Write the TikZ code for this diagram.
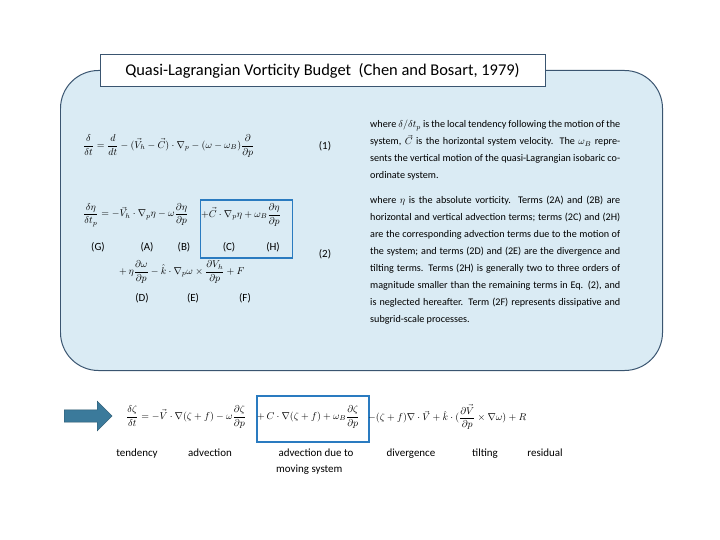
\documentclass[tikz,border=0pt]{standalone}
\usepackage{amsmath}
\usepackage{fontspec}
\setmainfont{Carlito}
\usetikzlibrary{shapes.arrows,positioning}
\definecolor{panel}{HTML}{DAEBF4}
\definecolor{edge}{HTML}{3A5570}
\definecolor{boxblue}{HTML}{2A7BC0}
\definecolor{arrowc}{HTML}{3B7A9B}
\tikzset{
  lab/.style={font=\fontsize{11}{13}\selectfont, inner sep=0pt, anchor=base},
  para/.style={font=\fontsize{10.2}{17}\selectfont, text width=250bp, align=justify, anchor=north west, inner sep=0pt},
  eq/.style={inner sep=1pt, font=\fontsize{10}{12}\selectfont},
  hl/.style={draw=boxblue, line width=1.6pt, inner sep=2pt}
}
\begin{document}
\begin{tikzpicture}[x=1bp,y=-1bp]
\useasboundingbox (0,0) rectangle (720,540);
\node[draw=edge, fill=panel, line width=1pt, rounded corners=38bp, minimum width=602bp, minimum height=300bp, anchor=north west] (panel) at (60,70) {};
\node[draw=edge, fill=white, line width=1pt, minimum width=445bp, minimum height=32bp, font=\fontsize{16.5}{18}\selectfont] (title) at (322.5,71) {Quasi-Lagrangian Vorticity Budget\ \ (Chen and Bosart, 1979)};
% eq 1
\node[eq, anchor=west] (eq1) at (82,146) {$\dfrac{\delta}{\delta t}=\dfrac{d}{dt}-(\vec V_h-\vec C)\cdot\nabla_p-(\omega-\omega_B)\dfrac{\partial}{\partial p}$};
\node[lab] (n1) at (325,150) {(1)};
% eq 2
\node[eq, anchor=west] (eq2a) at (82,215) {$\dfrac{\delta\eta}{\delta t_p}=-\vec V_h\cdot\nabla_p\eta-\omega\dfrac{\partial\eta}{\partial p}$};
\node[hl, minimum height=58bp, minimum width=92bp, anchor=north west] (eq2b) at (199.5,199) {};
\node[eq, anchor=west] (eq2c) at (200,215) {$+\vec C\cdot\nabla_p\eta+\omega_B\dfrac{\partial\eta}{\partial p}$};
\node[lab] (g) at (98,251) {(G)};
\node[lab] (a) at (147,251) {(A)};
\node[lab] (b) at (184,251) {(B)};
\node[lab] (c) at (229,251) {(C)};
\node[lab] (h) at (273,251) {(H)};
\node[lab] (n2) at (325,258) {(2)};
\node[eq, anchor=west] (eq2d) at (118,272) {$+\,\eta\dfrac{\partial\omega}{\partial p}-\hat k\cdot\nabla_p\omega\times\dfrac{\partial V_h}{\partial p}+F$};
\node[lab] (d) at (142,301) {(D)};
\node[lab] (e) at (193,301) {(E)};
\node[lab] (f) at (245,301) {(F)};
% right text
\node[para] (p1) at (370,120) {where $\delta/\delta t_p$ is the local tendency following the motion of the system, $\vec C$ is the horizontal system velocity. The $\omega_B$ represents the vertical motion of the quasi-Lagrangian isobaric coordinate system.};
\node[para] (p2) at (370,196) {where $\eta$ is the absolute vorticity. Terms (2A) and (2B) are horizontal and vertical advection terms; terms (2C) and (2H) are the corresponding advection terms due to the motion of the system; and terms (2D) and (2E) are the divergence and tilting terms. Terms (2H) is generally two to three orders of magnitude smaller than the remaining terms in Eq. (2), and is neglected hereafter. Term (2F) represents dissipative and subgrid-scale processes.};
% bottom
\node[single arrow, fill=arrowc, draw=arrowc!70!black, minimum width=30bp, single arrow head extend=6bp, single arrow head indent=0bp, minimum height=48bp, inner sep=4bp, anchor=west] (arr) at (64,416) {};
\node[eq, anchor=west] (b1) at (125,417) {$\dfrac{\delta\zeta}{\delta t}=-\vec V\cdot\nabla(\zeta+f)-\omega\dfrac{\partial\zeta}{\partial p}$};
\node[hl, minimum height=46bp, minimum width=112bp, anchor=north west] (bb) at (256,395) {};
\node[eq, anchor=west] (b2) at (256,417) {$+\,C\cdot\nabla(\zeta+f)+\omega_B\dfrac{\partial\zeta}{\partial p}$};
\node[eq, anchor=west] (b3) at (367,417) {$-(\zeta+f)\nabla\cdot\vec V+\hat k\cdot(\dfrac{\partial\vec V}{\partial p}\times\nabla\omega)+R$};
\node[lab] (t1) at (137,456) {tendency};
\node[lab] (t2) at (210,456) {advection};
\node[lab] (t3) at (316,456) {advection due to};
\node[lab, anchor=base west] (t3b) at (276,472) {moving system};
\node[lab] (t4) at (411,456) {divergence};
\node[lab] (t5) at (485,456) {tilting};
\node[lab] (t6) at (545,456) {residual};
\end{tikzpicture}
\end{document}
